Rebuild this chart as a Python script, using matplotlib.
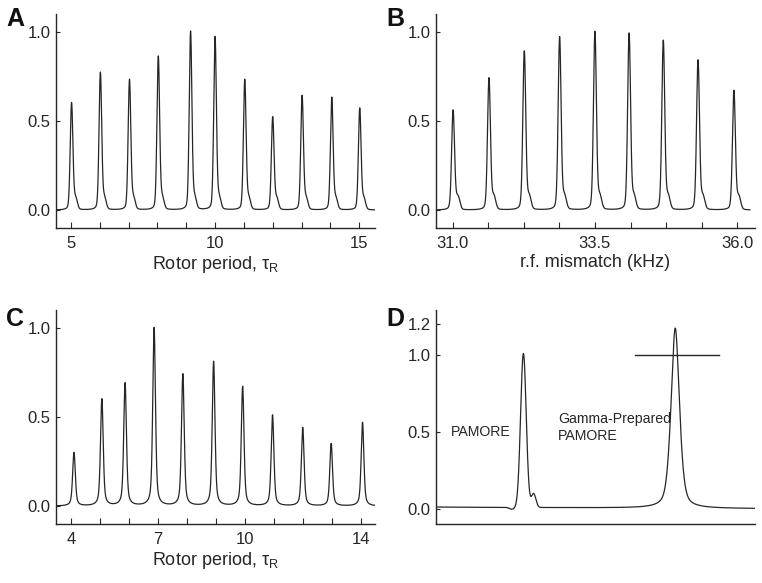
import numpy as np
import matplotlib
matplotlib.use("Agg")
import matplotlib.pyplot as plt

plt.rcParams['font.family'] = ['Liberation Sans', 'DejaVu Sans']
plt.rcParams['mathtext.fontset'] = 'custom'
plt.rcParams['mathtext.rm'] = 'Liberation Sans'
plt.rcParams['mathtext.it'] = 'Liberation Sans:italic'

INK = '#262626'

# panel A: rotor period scan
a_pos = [5.02, 6.02, 7.03, 8.03, 9.15, 10.0, 11.03, 12.0, 13.02, 14.05, 15.02]
a_height = [0.60, 0.77, 0.73, 0.86, 1.0, 0.97, 0.73, 0.52, 0.64, 0.63, 0.57]
a_ticks = [5, 6, 7, 8, 9, 10, 11, 12, 13, 14, 15]
a_labels = ['5', '', '', '', '', '10', '', '', '', '', '15']

# panel B: r.f. mismatch scan
b_pos = [31.01, 31.64, 32.26, 32.88, 33.5, 34.1, 34.7, 35.31, 35.94]
b_height = [0.56, 0.74, 0.89, 0.97, 1.0, 0.99, 0.95, 0.84, 0.67]
b_ticks = [31.0, 31.625, 32.25, 32.875, 33.5, 34.125, 34.75, 35.375, 36.0]
b_labels = ['31.0', '', '', '', '33.5', '', '', '', '36.0']

# panel C: rotor period scan (gamma-prepared)
c_pos = [4.11, 5.07, 5.87, 6.87, 7.86, 8.92, 9.92, 10.95, 11.99, 12.97, 14.05]
c_height = [0.30, 0.60, 0.69, 1.0, 0.74, 0.81, 0.67, 0.51, 0.44, 0.35, 0.47]
c_ticks = [4, 5, 6, 7, 8, 9, 10, 11, 12, 13, 14]
c_labels = ['4', '', '', '7', '', '', '10', '', '', '', '14']

# panel D: PAMORE vs gamma-prepared PAMORE (arbitrary x scale 0-100)
d_pos = [27.4, 75.0]
d_height = [1.0, 1.17]
d_width = [1.1, 1.4]
d_shoulder_pos = 30.6
d_shoulder_height = 0.09
d_ref_line = [62.4, 88.8]
d_ref_level = 1.0


def gauss(x, x0, s):
    return np.exp(-0.5 * ((x - x0) / s) ** 2)


def lorentz(x, x0, g):
    return 1.0 / (1.0 + ((x - x0) / g) ** 2)


def sharp_trace(x, pos, heights, sig, shoulder_dx, shoulder_h):
    y = np.zeros_like(x)
    for p, h in zip(pos, heights):
        y += h * (0.85 * gauss(x, p, sig) + 0.15 * lorentz(x, p, sig * 1.5))
        y += shoulder_h * gauss(x, p + shoulder_dx, sig * 1.3)
    return y


def style_axis(ax, ylim, yticks):
    ax.spines['top'].set_visible(False)
    ax.spines['right'].set_visible(False)
    for s in ('left', 'bottom'):
        ax.spines[s].set_color(INK)
        ax.spines[s].set_linewidth(1.0)
    ax.set_ylim(*ylim)
    ax.set_yticks(yticks)
    ax.set_yticklabels(['%.1f' % v for v in yticks])
    ax.tick_params(axis='y', direction='in', length=3, width=0.8, colors=INK,
                   labelsize=12, pad=4)
    ax.tick_params(axis='x', direction='in', length=4, width=0.8, colors=INK,
                   labelsize=12, pad=6)


fig = plt.figure(figsize=(7.62, 5.83), dpi=100)
W, H = 762.0, 583.0


def add_ax(left, top, right, bottom):
    return fig.add_axes([left / W, 1 - bottom / H, (right - left) / W, (bottom - top) / H])


axA = add_ax(56, 14, 375, 228)
axB = add_ax(436, 14, 755, 228)
axC = add_ax(56, 310, 375, 524)
axD = add_ax(436, 310, 755, 524)

# A
xa = np.linspace(4.48, 15.55, 3000)
ya = sharp_trace(xa, a_pos, a_height, 0.045, 0.14, 0.06)
axA.plot(xa, ya, color=INK, lw=0.9)
axA.set_xlim(4.48, 15.55)
axA.set_xticks(a_ticks)
axA.set_xticklabels(a_labels)
style_axis(axA, (-0.1, 1.1), [0.0, 0.5, 1.0])
axA.set_xlabel('Rotor period, τ$_\\mathrm{R}$', fontsize=13, color=INK, labelpad=2)

# B
xb = np.linspace(30.71, 36.22, 3000)
yb = sharp_trace(xb, b_pos, b_height, 0.025, 0.085, 0.07)
axB.plot(xb, yb, color=INK, lw=0.9)
axB.set_xlim(30.71, 36.31)
axB.set_xticks(b_ticks)
axB.set_xticklabels(b_labels)
style_axis(axB, (-0.1, 1.1), [0.0, 0.5, 1.0])
axB.set_xlabel('r.f. mismatch (kHz)', fontsize=13, color=INK, labelpad=2)

# C
xc = np.linspace(3.49, 14.48, 3000)
yc = np.zeros_like(xc)
for p, h in zip(c_pos, c_height):
    yc += h * (0.55 * gauss(xc, p, 0.045) + 0.45 * lorentz(xc, p, 0.06))
axC.plot(xc, yc, color=INK, lw=0.9)
axC.set_xlim(3.49, 14.48)
axC.set_xticks(c_ticks)
axC.set_xticklabels(c_labels)
style_axis(axC, (-0.1, 1.1), [0.0, 0.5, 1.0])
axC.set_xlabel('Rotor period, τ$_\\mathrm{R}$', fontsize=13, color=INK, labelpad=2)

# D
xd = np.linspace(0, 100, 3000)
yd = 0.01 - 0.01 * xd / 100
yd = yd + d_height[0] * gauss(xd, d_pos[0], d_width[0] * 0.8)
yd = yd + d_shoulder_height * gauss(xd, d_shoulder_pos, 0.7)
yd = yd - 0.012 * gauss(xd, 23.8, 0.8)
yd = yd + d_height[1] * (0.5 * gauss(xd, d_pos[1], d_width[1]) + 0.5 * lorentz(xd, d_pos[1], d_width[1]))
axD.plot(xd, yd, color=INK, lw=0.9)
axD.plot(d_ref_line, [d_ref_level, d_ref_level], color=INK, lw=1.0)
axD.set_xlim(0, 100)
axD.set_xticks([])
style_axis(axD, (-0.1, 1.29), [0.0, 0.5, 1.0, 1.2])
axD.text(4.7, 0.5, 'PAMORE', fontsize=10.2, color=INK, va='center', ha='left')
axD.text(38.2, 0.525, 'Gamma-Prepared\nPAMORE', fontsize=10.2, color=INK,
         va='center', ha='left', linespacing=1.3)

# panel letters
for lab, (px, py) in zip('ABCD', [(6, 26), (386, 26), (6, 326), (386, 326)]):
    fig.text(px / W, 1 - py / H, lab, fontsize=18, fontweight='bold', color='#111111',
             ha='left', va='baseline')

fig.savefig('out.png', dpi=100)
